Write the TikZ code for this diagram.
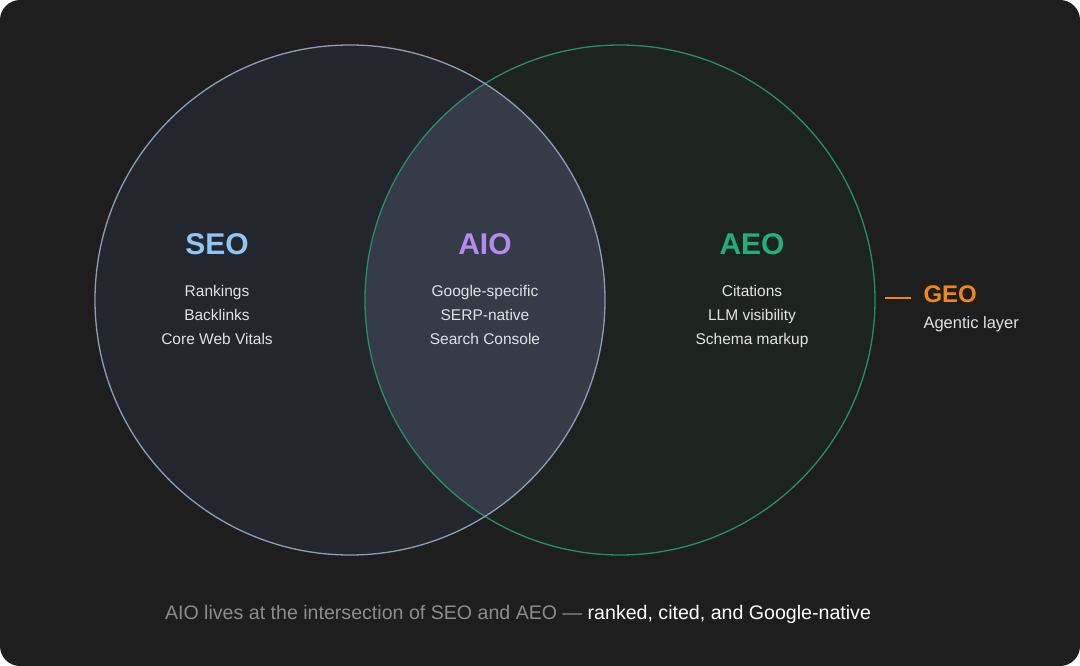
\documentclass[tikz,border=0pt]{standalone}
\usepackage{fontspec}
\setmainfont{Liberation Sans}
\definecolor{bgc}{HTML}{1E1E1E}
\definecolor{lfill}{HTML}{23262C}
\definecolor{rfill}{HTML}{1D2420}
\definecolor{ifill}{HTML}{363B48}
\definecolor{lstroke}{HTML}{8C9DB6}
\definecolor{rstroke}{HTML}{2A8C66}
\definecolor{seoc}{HTML}{8EC5F5}
\definecolor{aioc}{HTML}{B48CF0}
\definecolor{aeoc}{HTML}{20B07C}
\definecolor{geoc}{HTML}{F0871A}
\definecolor{bodyc}{HTML}{E2E2E2}
\definecolor{capgray}{HTML}{8C8C8C}
\tikzset{
  title/.style={font=\fontsize{30}{30}\selectfont\bfseries, anchor=center},
  items/.style={font=\fontsize{15.5}{24}\selectfont, text=bodyc, align=center, anchor=north},
}
\begin{document}
\begin{tikzpicture}[x=1pt,y=-1pt]
\useasboundingbox (0,0) rectangle (1080,666);
\fill[white] (0,0) rectangle (1080,666);
\fill[bgc, rounded corners=20pt] (0,0) rectangle (1080,666);
% circles
\fill[lfill] (350,300) circle (255);
\fill[rfill] (620,300) circle (255);
\begin{scope}
  \clip (350,300) circle (255);
  \fill[ifill] (620,300) circle (255);
\end{scope}
\draw[rstroke, line width=1.3pt] (620,300) circle (255);
\draw[lstroke, line width=1.3pt] (350,300) circle (255);
% titles
\node[title, text=seoc] (seo) at (217,244) {SEO};
\node[title, text=aioc] (aio) at (485,244) {AIO};
\node[title, text=aeoc] (aeo) at (752,244) {AEO};
\node[items] (seoitems) at (217,282) {Rankings\\Backlinks\\Core Web Vitals};
\node[items] (aioitems) at (485,282) {Google-specific\\SERP-native\\Search Console};
\node[items] (aeoitems) at (752,282) {Citations\\LLM visibility\\Schema markup};
% GEO
\coordinate (d1) at (885,298);
\coordinate (d2) at (911,298);
\draw[geoc, line width=2.8pt] (d1) -- (d2);
\node[font=\fontsize{24}{24}\selectfont\bfseries, text=geoc, anchor=west] (geo) at (920,294) {GEO};
\node[font=\fontsize{16.5}{16.5}\selectfont, text=bodyc, anchor=west] (geosub) at (920,324) {Agentic layer};
% caption
\node[font=\fontsize{19.6}{19.6}\selectfont, anchor=center] (cap) at (518,614) {\textcolor{capgray}{AIO lives at the intersection of SEO and AEO —} \textcolor{white}{ranked, cited, and Google-native}};
\end{tikzpicture}
\end{document}
